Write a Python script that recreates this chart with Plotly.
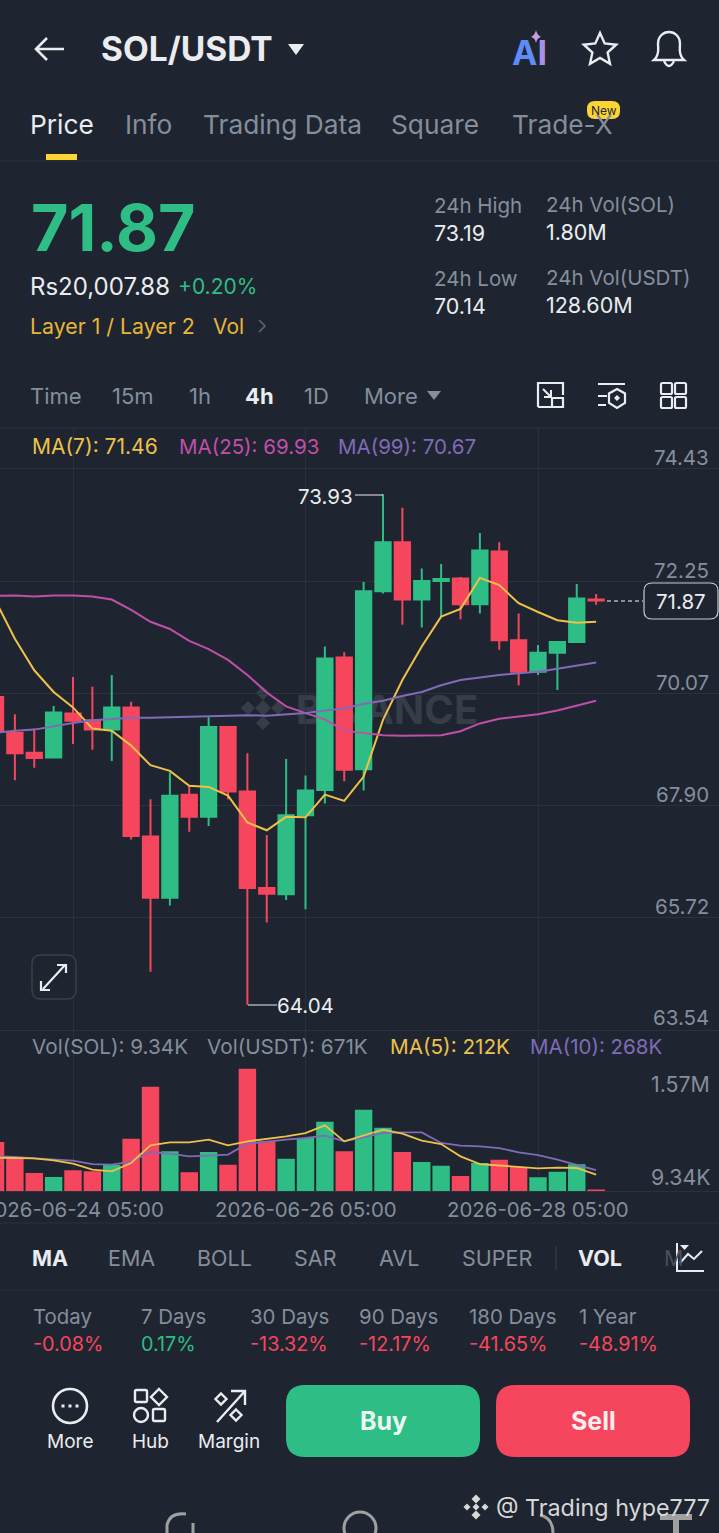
import math

import pandas as pd
import plotly.graph_objects as go

W = 719
H = 1533
BG = '#1e2530'
GREEN = '#2ebd85'
RED = '#f6465d'
GRAY = '#848e9c'
WHITE = '#eaecef'
YELLOW = '#eec14a'
MAGENTA = '#c04fa8'
PURPLE = '#7f6bb8'
GRID = '#2c323d'
FONT = 'Inter'

# 4h candles, first one is cut by the left edge
times = pd.date_range('2026-06-23 13:00', periods=32, freq='4h')
opens = [70.00, 69.31, 68.92, 68.83, 69.68, 69.55, 69.37, 69.80, 67.30, 66.11, 68.11, 67.68, 69.42, 68.17, 66.30, 66.18,
         67.71, 68.20, 70.77, 68.60, 72.05, 73.00, 71.89, 72.25, 72.30, 71.80, 72.82, 71.10, 70.49, 70.86, 71.07, 71.89]
highs = [70.05, 69.67, 69.39, 69.83, 70.39, 70.20, 70.43, 69.91, 68.02, 68.54, 68.28, 69.61, 69.42, 68.91, 67.33, 68.80,
         68.48, 70.98, 70.87, 72.23, 73.93, 73.67, 72.49, 72.58, 72.33, 73.18, 73.00, 71.62, 71.01, 71.07, 72.19, 72.00]
lows = [69.30, 68.39, 68.63, 68.83, 69.09, 68.98, 68.76, 67.24, 64.68, 65.96, 67.39, 67.50, 68.02, 64.04, 65.63, 66.07,
        65.89, 67.94, 68.37, 68.19, 72.01, 71.40, 71.35, 71.56, 71.51, 71.62, 70.92, 70.23, 70.43, 70.14, 71.06, 71.79]
closes = [69.35, 68.91, 68.82, 69.70, 69.54, 69.37, 69.80, 67.31, 66.11, 68.09, 67.68, 69.42, 68.17, 66.30, 66.19, 67.71,
          68.19, 70.75, 68.59, 72.05, 73.00, 71.89, 72.25, 72.29, 71.80, 72.84, 71.10, 70.49, 70.86, 71.07, 71.91, 71.87]
ma7 = [71.87, 71.13, 70.52, 70.10, 69.80, 69.39, 69.35, 69.06, 68.68, 68.57, 68.28, 68.26, 68.09, 67.57, 67.42, 67.68,
       67.67, 68.11, 67.99, 68.46, 69.56, 70.33, 70.98, 71.56, 71.71, 72.31, 72.17, 71.82, 71.65, 71.49, 71.44, 71.46]
ma25 = [71.96, 71.97, 71.95, 71.97, 71.97, 71.95, 71.89, 71.69, 71.46, 71.32, 71.09, 70.93, 70.72, 70.43, 70.09, 69.82,
        69.69, 69.57, 69.35, 69.30, 69.26, 69.25, 69.26, 69.26, 69.34, 69.49, 69.58, 69.63, 69.67, 69.74, 69.83, 69.93]
ma99 = [69.31, 69.35, 69.37, 69.44, 69.50, 69.55, 69.57, 69.60, 69.60, 69.61, 69.63, 69.63, 69.64, 69.65, 69.64, 69.66,
        69.69, 69.74, 69.78, 69.87, 69.93, 70.02, 70.10, 70.23, 70.33, 70.38, 70.43, 70.46, 70.49, 70.55, 70.61, 70.67]
volumes = [631, 425, 232, 180, 266, 253, 339, 674, 1343, 511, 240, 502, 339, 1574, 639, 416,
           682, 892, 511, 1047, 815, 502, 373, 326, 193, 360, 403, 309, 176, 249, 343, 9.34]
vol_ma5 = [429, 429, 420, 395, 352, 275, 253, 360, 588, 626, 626, 661, 588, 639, 669, 704,
           746, 845, 639, 716, 789, 738, 648, 605, 446, 347, 330, 317, 292, 300, 296, 212]
vol_ma10 = [446, 438, 420, 408, 390, 347, 339, 378, 502, 480, 446, 455, 468, 609, 639, 661,
            682, 712, 639, 695, 746, 755, 755, 618, 583, 575, 553, 498, 463, 403, 339, 268]

price_ticks = [74.43, 72.25, 70.07, 67.90, 65.72, 63.54]
date_ticks = ['2026-06-24 05:00', '2026-06-26 05:00', '2026-06-28 05:00']
vol_ticks = [('1.57M', 1084), ('9.34K', 1177)]

# pixel layout of the chart panes
price_top, price_bottom = 428, 1031.5
vol_bottom = 1191
px_per_4h = 19.375
t0 = pd.Timestamp(date_ticks[0])
x_left = t0 - pd.Timedelta(hours=73 / px_per_4h * 4)
x_right = t0 + pd.Timedelta(hours=(W - 73) / px_per_4h * 4)

fig = go.Figure()
fig.add_trace(
    go.Candlestick(
        x=times, open=opens, high=highs, low=lows, close=closes,
        increasing=dict(line=dict(color=GREEN, width=2), fillcolor=GREEN),
        decreasing=dict(line=dict(color=RED, width=2), fillcolor=RED),
        whiskerwidth=0, showlegend=False,
    )
)
for vals, color in [(ma7, YELLOW), (ma25, MAGENTA), (ma99, PURPLE)]:
    fig.add_trace(go.Scatter(x=times, y=vals, mode='lines', line=dict(color=color, width=2), showlegend=False))

vol_colors = [GREEN if c >= o else RED for o, c in zip(opens, closes)]
fig.add_trace(
    go.Bar(x=times, y=[v * 1000 for v in volumes], marker=dict(color=vol_colors, line=dict(width=0)),
           xaxis='x2', yaxis='y2', showlegend=False)
)
for vals, color in [(vol_ma10, PURPLE), (vol_ma5, YELLOW)]:
    fig.add_trace(
        go.Scatter(x=times, y=[v * 1000 for v in vals], mode='lines', line=dict(color=color, width=1.8),
                   xaxis='x2', yaxis='y2', showlegend=False)
    )
# empty trace so the pixel overlay axes exist
fig.add_trace(go.Scatter(x=[None], y=[None], xaxis='x3', yaxis='y3', showlegend=False))

annotations = []
shapes = []


def txt(x, y, text, size=21, color=GRAY, anchor='left', bold=False):
    label = f'<b>{text}</b>' if bold else text
    annotations.append(
        dict(x=x, y=y, xref='x3', yref='y3', text=label, showarrow=False, xanchor=anchor, yanchor='middle',
             font=dict(family=FONT, size=size, color=color), borderpad=0, borderwidth=0)
    )


def stroke(path, color=WHITE, width=2.4, fill=None):
    shapes.append(
        dict(type='path', path=path, xref='x3', yref='y3', layer='above',
             line=dict(color=color, width=width), fillcolor=fill or 'rgba(0,0,0,0)')
    )


def fill(path, color):
    shapes.append(
        dict(type='path', path=path, xref='x3', yref='y3', layer='above', line=dict(width=0), fillcolor=color)
    )


def circle(cx, cy, r, color=WHITE, width=2.4):
    shapes.append(
        dict(type='circle', x0=cx - r, x1=cx + r, y0=cy - r, y1=cy + r, xref='x3', yref='y3', layer='above',
             line=dict(color=color, width=width))
    )


def hline(y, color=GRID, x0=0, x1=W, width=1):
    stroke(f'M {x0} {y} L {x1} {y}', color, width)


def round_rect(x0, y0, x1, y1, r):
    return (
        f'M {x0 + r} {y0} L {x1 - r} {y0} Q {x1} {y0} {x1} {y0 + r} L {x1} {y1 - r} Q {x1} {y1} {x1 - r} {y1} '
        f'L {x0 + r} {y1} Q {x0} {y1} {x0} {y1 - r} L {x0} {y0 + r} Q {x0} {y0} {x0 + r} {y0} Z'
    )


def diamond(cx, cy, r):
    return f'M {cx} {cy - r} L {cx + r} {cy} L {cx} {cy + r} L {cx - r} {cy} Z'


def star_path(cx, cy, outer, inner):
    pts = []
    for k in range(10):
        r = outer if k % 2 == 0 else inner
        a = -math.pi / 2 + k * math.pi / 5
        pts.append(f'{cx + r * math.cos(a):.1f} {cy + r * math.sin(a):.1f}')
    return 'M ' + ' L '.join(pts) + ' Z'


def paper_diamond(cx, cy, r):
    pts = [(cx, cy - r), (cx + r, cy), (cx, cy + r), (cx - r, cy)]
    coords = [f'{px / W:.5f} {1 - py / H:.5f}' for px, py in pts]
    return 'M ' + ' L '.join(coords) + ' Z'


# header
stroke('M 36 49 L 64 49 M 47 38 L 36 49 L 47 60', WHITE, 2.6)
txt(101, 49, 'SOL/USDT', 33.5, WHITE, bold=True)
fill('M 288 44 L 304 44 L 296 55 Z', WHITE)
txt(512, 52, '<span style="color:#5f8cf5">A</span><span style="color:#a98fe6">I</span>', 34, '#5f8cf5', bold=True)
fill('M 536 30 Q 537 35 541 37 Q 537 38 536 43 Q 535 38 531 37 Q 535 35 536 30 Z', '#c79be0')
stroke(star_path(600, 50, 17, 8), WHITE, 2.4)
stroke('M 654 60 C 660 55 658 48 658 44 C 658 28 680 28 680 44 C 680 48 678 55 684 60 Z', WHITE, 2.4)
stroke('M 664 61 Q 669 71 674 61', WHITE, 2.4)

# tabs
for x, name, color in [(30, 'Price', WHITE), (125, 'Info', GRAY), (203, 'Trading Data', GRAY),
                       (391, 'Square', GRAY), (512, 'Trade-X', GRAY)]:
    txt(x, 124, name, 26.3, color)
fill(round_rect(587, 101, 620, 119, 8), '#fcd535')
txt(603.5, 110, 'New', 12, '#202630', 'center')
fill('M 46 154 L 77 154 L 77 160 L 46 160 Z', '#fcd535')
hline(161)

# price block
txt(31, 228, '71.87', 64.5, GREEN, bold=True)
txt(30, 286, 'Rs20,007.88', 24, WHITE)
txt(178, 286, '+0.20%', 21, GREEN)
txt(30, 326, 'Layer 1 / Layer 2', 21.3, '#e8b53a')
txt(213, 326, 'Vol', 21, '#e8b53a')
stroke('M 259 320 L 265 326 L 259 332', '#5e6673', 1.6)
for x, y, top, bottom in [(434, 205, '24h High', '73.19'), (546, 204, '24h Vol(SOL)', '1.80M'),
                          (434, 278, '24h Low', '70.14'), (546, 277, '24h Vol(USDT)', '128.60M')]:
    txt(x, y, top, 20.5, GRAY)
    txt(x, y + 28, bottom, 21.5, WHITE)

# interval row
for x, name, color, bold in [(30, 'Time', GRAY, False), (112, '15m', GRAY, False), (189, '1h', GRAY, False),
                             (245, '4h', WHITE, True), (304, '1D', GRAY, False), (364, 'More', GRAY, False)]:
    txt(x, 396, name, 22, color, bold=bold)
fill('M 427 391 L 441 391 L 434 400 Z', GRAY)
stroke('M 538 407 L 538 383 L 563 383 L 563 395 M 552 407 L 538 407', WHITE, 2.2)
stroke('M 552 398 H 563 V 407 H 552 Z', WHITE, 2.2)
stroke('M 543 389 L 551 397 M 551 390 L 551 397 L 544 397', WHITE, 2)
stroke('M 598 384 L 625 384 M 598 396 L 607 396 M 598 405 L 606 405', WHITE, 2.2)
stroke('M 617 389 L 625 393.5 L 625 403 L 617 408 L 609 403 L 609 393.5 Z', WHITE, 2.2)
fill(diamond(617, 398, 3), WHITE)
for x0, y0 in [(661, 383), (675, 383), (661, 397), (675, 397)]:
    stroke(round_rect(x0, y0, x0 + 11, y0 + 11, 1.5), WHITE, 2.2)
hline(428)

# chart legends and axis labels
txt(32, 446, 'MA(7): 71.46', 21, YELLOW)
txt(179, 446, 'MA(25): 69.93', 20.5, MAGENTA)
txt(338, 446, 'MA(99): 70.67', 20.5, PURPLE)
for tick in price_ticks:
    annotations.append(
        dict(x=711, y=tick, xref='x3', yref='y', yshift=11 if tick != price_ticks[-1] else 13, text=f'{tick:.2f}',
             showarrow=False, xanchor='right', yanchor='middle', font=dict(family=FONT, size=20.5, color=GRAY))
    )
txt(298, 496, '73.93', 20.5, WHITE)
stroke('M 355 495 L 383 495', WHITE, 1)
txt(277, 1005, '64.04', 20.5, WHITE)
stroke('M 248 1005 L 277 1005', WHITE, 1)
shapes.append(
    dict(type='line', x0=607, x1=643, y0=601, y1=601, xref='x3', yref='y3', layer='above',
         line=dict(color='#aeb4bc', width=1.4, dash='4px,3px'))
)
stroke(round_rect(644, 583, 718, 619, 8), '#c9ccd1', 1.2, BG)
txt(681, 601, '71.87', 20.5, WHITE, 'center')
stroke(round_rect(32, 955, 76, 999, 9), '#383e49', 1.6, BG)
stroke('M 43 989 L 65 965 M 57 965 L 66 965 L 66 973 M 41 981 L 41 990 L 50 990', WHITE, 2.2)

txt(32, 1046, 'Vol(SOL): 9.34K', 20.7, GRAY)
txt(207, 1046, 'Vol(USDT): 671K', 20.7, GRAY)
txt(390, 1046, 'MA(5): 212K', 20.7, YELLOW)
txt(530, 1046, 'MA(10): 268K', 20.5, PURPLE)
for label, y in vol_ticks:
    txt(710, y, label, 21.3, GRAY, 'right')
# native tick labels get dropped when they overflow the page, so these are set by hand
for tick in date_ticks:
    annotations.append(
        dict(x=tick, y=1209, xref='x2', yref='y3', text=tick, showarrow=False, xanchor='center', yanchor='middle',
             font=dict(family=FONT, size=20.4, color=GRAY))
    )
hline(1223)

# watermark sits under the candles, so it goes on the lowest shape layer
for cx, cy, r in [(263, 693, 7), (263, 723, 7), (248, 708, 7), (278, 708, 7), (263, 708, 8)]:
    shapes.append(
        dict(type='path', path=paper_diamond(cx, cy, r), xref='paper', yref='paper', layer='below',
             line=dict(width=0), fillcolor='#363c48')
    )
shapes.append(
    dict(type='rect', x0=290 / W, x1=484 / W, y0=1 - 730 / H, y1=1 - 686 / H, xref='paper', yref='paper',
         layer='below', line=dict(width=0), fillcolor='rgba(0,0,0,0)',
         label=dict(text='<b>BINANCE</b>', font=dict(family=FONT, size=40, color='#363c48'),
                    textposition='middle center'))
)

# indicator row
for x, name, color, bold in [(32, 'MA', WHITE, True), (108, 'EMA', GRAY, False), (197, 'BOLL', GRAY, False),
                             (294, 'SAR', GRAY, False), (379, 'AVL', GRAY, False), (462, 'SUPER', GRAY, False),
                             (578, 'VOL', WHITE, True), (664, 'M', '#4a505b', False)]:
    txt(x, 1258, name, 21.5, color, bold=bold)
stroke('M 556 1246 L 556 1270', '#343a46', 1.4)
stroke('M 677 1243 L 677 1271 L 704 1271', WHITE, 2)
stroke('M 680 1263 L 688 1254 L 694 1259 L 702 1251', WHITE, 2)
fill('M 680 1245 L 689 1245 L 684.5 1250 Z', WHITE)
hline(1290)

# performance row
for x, name, value in [(33, 'Today', '-0.08%'), (141, '7 Days', '0.17%'), (250, '30 Days', '-13.32%'),
                       (359, '90 Days', '-12.17%'), (469, '180 Days', '-41.65%'), (579, '1 Year', '-48.91%')]:
    txt(x, 1316, name, 20.4, GRAY)
    txt(x, 1344, value, 19.8, GREEN if not value.startswith('-') else RED)

# bottom bar
circle(70, 1406, 17, WHITE, 2.6)
for x in [63, 70, 77]:
    fill(f'M {x - 1.5} 1404.5 H {x + 1.5} V 1407.5 H {x - 1.5} Z', WHITE)
txt(70, 1441, 'More', 19, WHITE, 'center')
stroke(round_rect(135, 1390, 147, 1402, 1.5), WHITE, 2.4)
stroke(diamond(159, 1397, 8), WHITE, 2.4)
circle(141, 1415, 7, WHITE, 2.4)
stroke(round_rect(153, 1409, 165, 1421, 1.5), WHITE, 2.4)
txt(150, 1441, 'Hub', 19, WHITE, 'center')
stroke('M 217 1422 L 245 1391 M 231 1391 L 245 1391 L 245 1405', WHITE, 2.4)
stroke(diamond(221, 1399, 5.5), WHITE, 2.4)
stroke(diamond(236, 1415, 5.5), WHITE, 2.4)
txt(229, 1441, 'Margin', 19, WHITE, 'center')
fill(round_rect(286, 1385, 480, 1457, 19), GREEN)
fill(round_rect(496, 1385, 690, 1457, 19), RED)
txt(383, 1421, 'Buy', 25, '#eafaf3', 'center', bold=True)
txt(593, 1421, 'Sell', 25, '#fdeef0', 'center', bold=True)

# phone nav bar and repost credit
stroke('M 186 1514 Q 170 1512 167 1525 L 167 1533', '#a0a0a0', 3)
stroke('M 193 1523 L 193 1533', '#a0a0a0', 3)
circle(360, 1528, 16, '#a0a0a0', 3)
stroke('M 540 1515 Q 553 1518 553 1533', '#a0a0a0', 3)
stroke('M 660 1517 L 692 1517 M 676 1517 L 676 1533', '#a0a0a0', 6)
for cx, cy, r in [(476, 1499, 3.5), (476, 1515, 3.5), (467, 1507, 2.5), (485, 1507, 2.5), (476, 1507, 2.5)]:
    fill(diamond(cx, cy, r + 1), '#d8d8d8')
txt(496, 1507, '@ Trading hype777', 23.3, '#d8d8d8')

fig.update_layout(
    width=W,
    height=H,
    autosize=False,
    margin=dict(l=0, r=0, t=0, b=0, pad=0),
    paper_bgcolor=BG,
    plot_bgcolor='rgba(0,0,0,0)',
    boxgap=0.21,
    boxgroupgap=0,
    bargap=0.1,
    showlegend=False,
    hovermode=False,
    font=dict(family=FONT),
    annotations=annotations,
    shapes=shapes,
    xaxis=dict(
        domain=[0, 1], range=[x_left, x_right], type='date', anchor='y', rangeslider=dict(visible=False),
        tickmode='array', tickvals=date_ticks, showticklabels=False, showgrid=True, gridcolor=GRID, gridwidth=1,
        zeroline=False, showline=False, ticks='',
    ),
    yaxis=dict(
        domain=[1 - price_bottom / H, 1 - price_top / H], range=[63.52, 75.215], anchor='x',
        tickmode='array', tickvals=price_ticks, showticklabels=False, showgrid=True, gridcolor=GRID, gridwidth=1,
        zeroline=False, showline=False, ticks='',
    ),
    xaxis2=dict(
        domain=[0, 1], range=[x_left, x_right], type='date', anchor='y2',
        tickmode='array', tickvals=date_ticks, showticklabels=False, showgrid=True, gridcolor=GRID, gridwidth=1,
        zeroline=False, showline=True, linecolor=GRID, linewidth=1, ticks='',
    ),
    yaxis2=dict(
        domain=[1 - vol_bottom / H, 1 - price_bottom / H], range=[0, 2053000], anchor='x2',
        showticklabels=False, showgrid=False, zeroline=False, showline=False, ticks='',
    ),
    xaxis3=dict(domain=[0, 1], range=[0, W], anchor='y3', visible=False, fixedrange=True),
    yaxis3=dict(domain=[0, 1], range=[H, 0], anchor='x3', visible=False, fixedrange=True),
)

fig.write_html(
    'out.html',
    config=dict(displayModeBar=False),
    post_script="document.body.style.margin='0';document.body.style.background='" + BG + "';",
)
